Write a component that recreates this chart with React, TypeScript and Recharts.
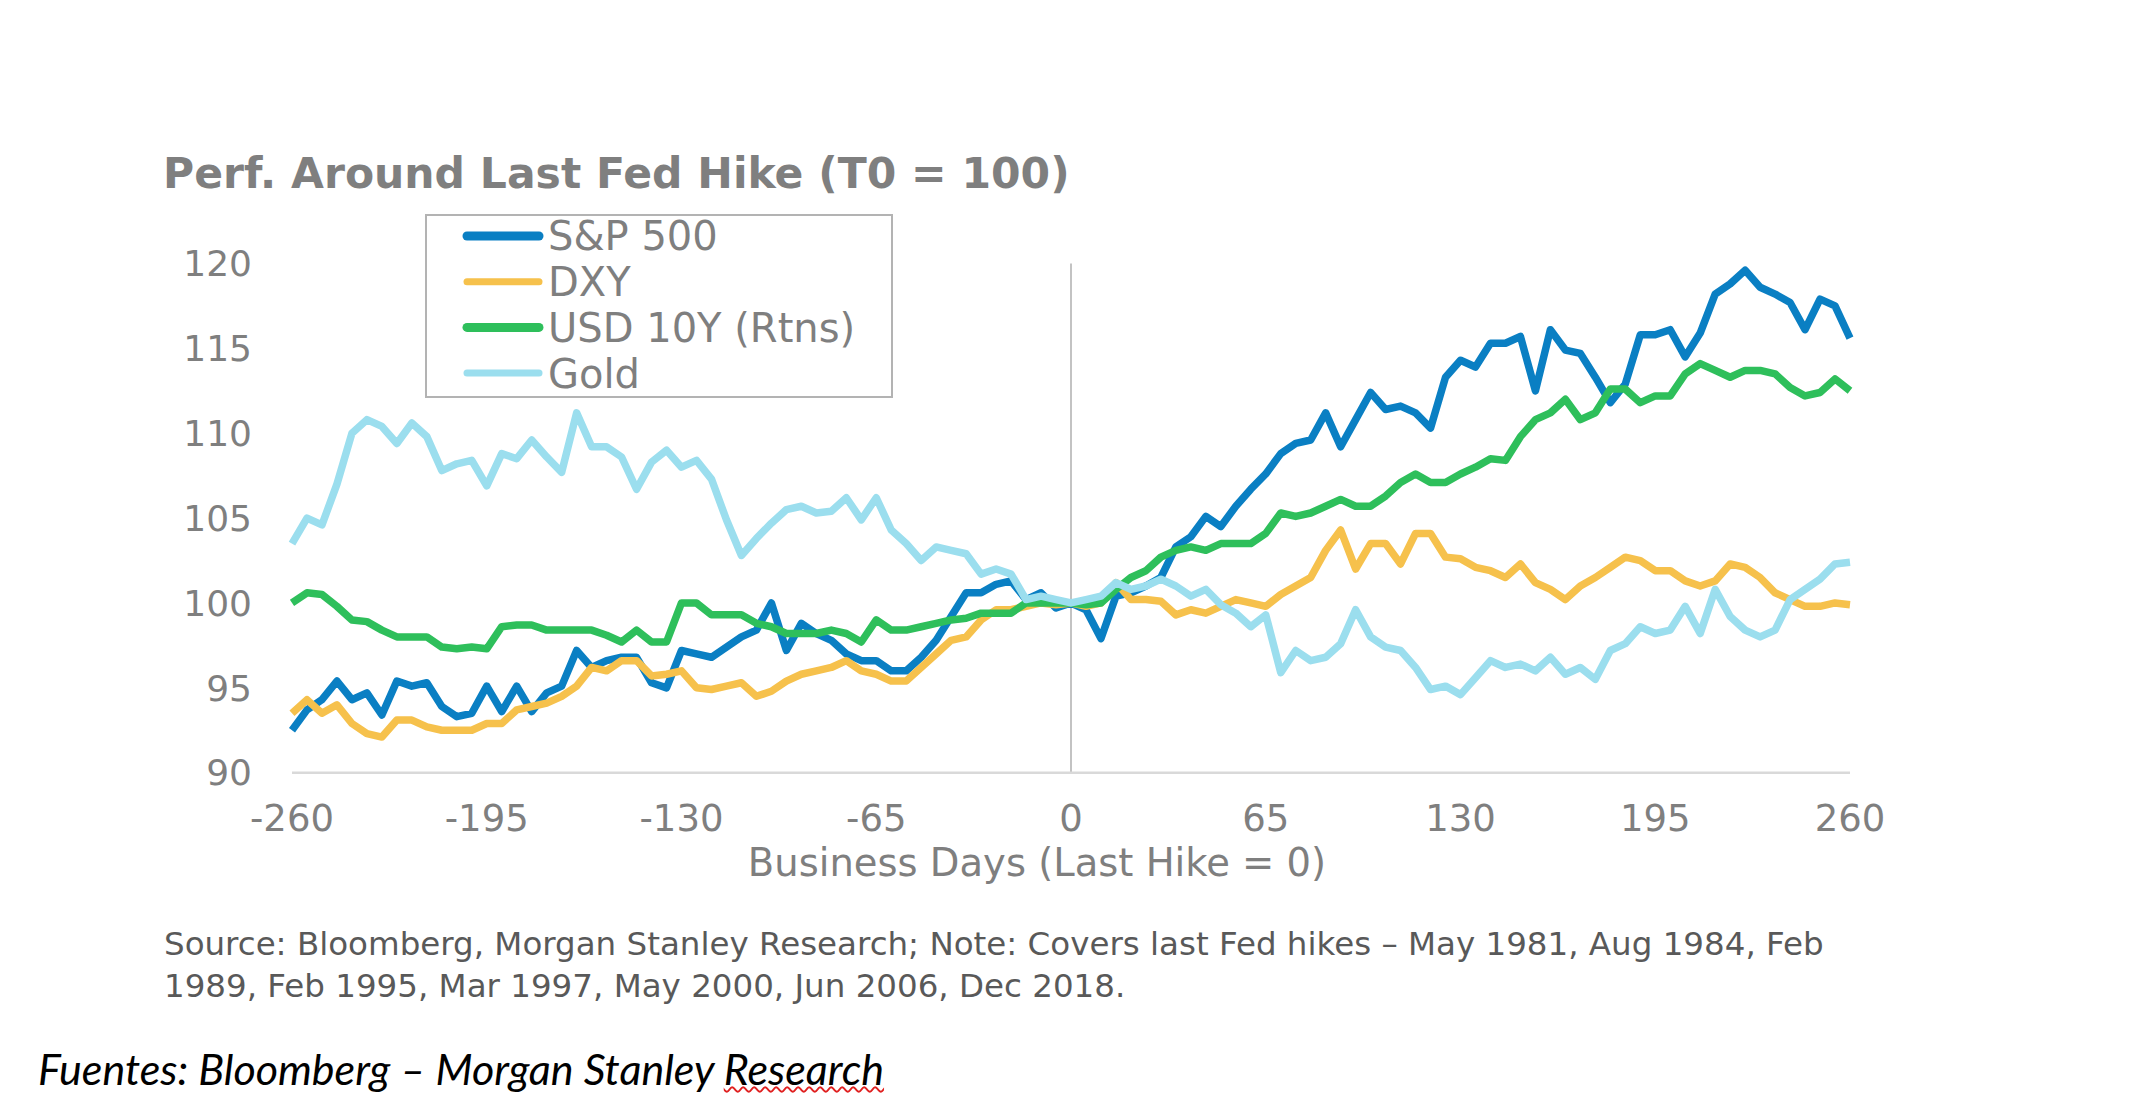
import { LineChart, Line, XAxis, YAxis, ReferenceLine, Legend } from "recharts";

// business days around the last hike, 5-day steps
const days = [
  -260, -255, -250, -245, -240, -235, -230, -225, -220, -215, -210, -205, -200, -195, -190, -185, -180, -175,
  -170, -165, -160, -155, -150, -145, -140, -135, -130, -125, -120, -115, -110, -105, -100, -95, -90, -85,
  -80, -75, -70, -65, -60, -55, -50, -45, -40, -35, -30, -25, -20, -15, -10, -5, 0, 5, 10, 15, 20, 25, 30,
  35, 40, 45, 50, 55, 60, 65, 70, 75, 80, 85, 90, 95, 100, 105, 110, 115, 120, 125, 130, 135, 140, 145, 150,
  155, 160, 165, 170, 175, 180, 185, 190, 195, 200, 205, 210, 215, 220, 225, 230, 235, 240, 245, 250, 255, 260,
];

const sp500 = [
  92.5, 93.7, 94.3, 95.4, 94.3, 94.7, 93.4, 95.4, 95.1, 95.3, 93.9, 93.3, 93.5, 95.1, 93.6, 95.1, 93.6, 94.7,
  95.1, 97.2, 96.2, 96.6, 96.8, 96.8, 95.3, 95.0, 97.2, 97.0, 96.8, 97.4, 98.0, 98.4, 100.0, 97.2, 98.8, 98.2,
  97.8, 97.0, 96.6, 96.6, 96.0, 96.0, 96.8, 97.8, 99.2, 100.6, 100.6, 101.1, 101.3, 100.2, 100.6, 99.7, 100.0,
  99.6, 97.9, 100.4, 100.6, 101.0, 101.5, 103.3, 103.9, 105.1, 104.5, 105.7, 106.7, 107.6, 108.8, 109.4, 109.6,
  111.2, 109.2, 110.8, 112.4, 111.4, 111.6, 111.2, 110.3, 113.3, 114.3, 113.9, 115.3, 115.3, 115.7, 112.5,
  116.1, 114.9, 114.7, 113.3, 111.8, 112.9, 115.8, 115.8, 116.1, 114.5, 115.9, 118.2, 118.8, 119.6, 118.6,
  118.2, 117.7, 116.1, 117.9, 117.5, 115.6,
];

const dxy = [
  93.5, 94.3, 93.5, 94.0, 92.9, 92.3, 92.1, 93.1, 93.1, 92.7, 92.5, 92.5, 92.5, 92.9, 92.9, 93.7, 93.9, 94.1,
  94.5, 95.1, 96.2, 96.0, 96.6, 96.6, 95.7, 95.8, 96.0, 95.0, 94.9, 95.1, 95.3, 94.5, 94.8, 95.4, 95.8, 96.0,
  96.2, 96.6, 96.0, 95.8, 95.4, 95.4, 96.2, 97.0, 97.8, 98.0, 99.0, 99.6, 99.6, 99.8, 100.0, 99.9, 100.0,
  99.8, 100.0, 101.2, 100.2, 100.2, 100.1, 99.3, 99.6, 99.4, 99.8, 100.2, 100.0, 99.8, 100.5, 101.0, 101.5,
  103.1, 104.3, 102.0, 103.5, 103.5, 102.3, 104.1, 104.1, 102.7, 102.6, 102.1, 101.9, 101.5, 102.3, 101.2,
  100.8, 100.2, 101.0, 101.5, 102.1, 102.7, 102.5, 101.9, 101.9, 101.3, 101.0, 101.3, 102.3, 102.1, 101.5,
  100.6, 100.2, 99.8, 99.8, 100.0, 99.9,
];

const usd10y = [
  100.0, 100.6, 100.5, 99.8, 99.0, 98.9, 98.4, 98.0, 98.0, 98.0, 97.4, 97.3, 97.4, 97.3, 98.6, 98.7, 98.7, 98.4,
  98.4, 98.4, 98.4, 98.1, 97.7, 98.4, 97.7, 97.7, 100.0, 100.0, 99.3, 99.3, 99.3, 98.8, 98.6, 98.2, 98.2, 98.2,
  98.4, 98.2, 97.7, 99.0, 98.4, 98.4, 98.6, 98.8, 99.0, 99.1, 99.4, 99.4, 99.4, 100.0, 100.0, 100.0, 100.0,
  99.9, 100.0, 100.8, 101.5, 101.9, 102.7, 103.1, 103.3, 103.1, 103.5, 103.5, 103.5, 104.1, 105.3, 105.1, 105.3,
  105.7, 106.1, 105.7, 105.7, 106.3, 107.1, 107.6, 107.1, 107.1, 107.6, 108.0, 108.5, 108.4, 109.8, 110.8,
  111.2, 112.0, 110.8, 111.2, 112.6, 112.6, 111.8, 112.2, 112.2, 113.5, 114.1, 113.7, 113.3, 113.7, 113.7,
  113.5, 112.7, 112.2, 112.4, 113.2, 112.5,
];

const gold = [
  103.5, 105.0, 104.6, 107.0, 110.0, 110.8, 110.4, 109.4, 110.6, 109.8, 107.8, 108.2, 108.4, 106.9, 108.8, 108.5,
  109.6, 108.6, 107.7, 111.2, 109.2, 109.2, 108.6, 106.7, 108.3, 109.0, 108.0, 108.4, 107.3, 104.9, 102.8, 103.8,
  104.7, 105.5, 105.7, 105.3, 105.4, 106.2, 104.9, 106.2, 104.3, 103.5, 102.5, 103.3, 103.1, 102.9, 101.7, 102.0,
  101.7, 100.2, 100.4, 100.2, 100.0, 100.2, 100.4, 101.2, 100.8, 101.0, 101.4, 101.0, 100.4, 100.8, 99.9, 99.4,
  98.6, 99.3, 95.9, 97.2, 96.6, 96.8, 97.6, 99.6, 98.0, 97.4, 97.2, 96.2, 94.9, 95.1, 94.6, 95.6, 96.6, 96.2,
  96.4, 96.0, 96.8, 95.8, 96.2, 95.5, 97.2, 97.6, 98.6, 98.2, 98.4, 99.8, 98.2, 100.8, 99.2, 98.4, 98.0, 98.4,
  100.2, 100.8, 101.4, 102.3, 102.4,
];

const xTicks = [-260, -195, -130, -65, 0, 65, 130, 195, 260];
const yTicks = [90, 95, 100, 105, 110, 115, 120];

const series = [
  { key: "sp500", name: "S&P 500", color: "#0a7fc3", legendStroke: 9 },
  { key: "dxy", name: "DXY", color: "#f6c14c", legendStroke: 7 },
  { key: "usd10y", name: "USD 10Y (Rtns)", color: "#2ebf5b", legendStroke: 9 },
  { key: "gold", name: "Gold", color: "#9bdeee", legendStroke: 7 },
];

const data = days.map((day, i) => ({
  day,
  sp500: sp500[i],
  dxy: dxy[i],
  usd10y: usd10y[i],
  gold: gold[i],
}));

const FONT = "DejaVu Sans";
const GREY = "#7f7f7f";

const LegendBox = () => (
  <svg width={468} height={184} style={{ display: "block" }}>
    <rect x={1} y={1} width={466} height={182} fill="#fff" stroke="#b3b3b3" strokeWidth={2} />
    {series.map((s, i) => {
      const cy = 22 + i * 45.7;
      return (
        <g key={s.key}>
          <line x1={42} x2={114} y1={cy} y2={cy} stroke={s.color} strokeWidth={s.legendStroke} strokeLinecap="round" />
          <text x={123} y={cy} dy="0.36em" fontSize={40} fill={GREY} fontFamily={FONT}>
            {s.name}
          </text>
        </g>
      );
    })}
  </svg>
);

export default function App() {
  return (
    <div style={{ position: "absolute", left: 0, top: 0, width: 2130, height: 1096, background: "#fff" }}>
      <svg width={2130} height={1096} style={{ position: "absolute", left: 0, top: 0 }}>
        <text x={163} y={188} fontFamily={FONT} fontWeight="bold" fontSize={42.5} fill={GREY}>
          Perf. Around Last Fed Hike (T0 = 100)
        </text>
        <text x={1037} y={876} textAnchor="middle" fontFamily={FONT} fontSize={38.5} fill={GREY}>
          Business Days (Last Hike = 0)
        </text>
        <text x={164} y={955} fontFamily={FONT} fontSize={32.5} fill="#595959">
          Source: Bloomberg, Morgan Stanley Research; Note: Covers last Fed hikes – May 1981, Aug 1984, Feb
        </text>
        <text x={164} y={997} fontFamily={FONT} fontSize={32.5} fill="#595959">
          1989, Feb 1995, Mar 1997, May 2000, Jun 2006, Dec 2018.
        </text>
      </svg>

      <div
        style={{
          position: "absolute",
          left: 38,
          top: 1045,
          fontFamily: "Lato",
          fontStyle: "italic",
          fontSize: 43,
          lineHeight: "47px",
          color: "#000",
          whiteSpace: "nowrap",
        }}
      >
        Fuentes: Bloomberg – Morgan Stanley{" "}
        <span style={{ textDecoration: "underline wavy #e02020", textDecorationThickness: 2 }}>Research</span>
      </div>

      <div style={{ position: "absolute", left: 0, top: 0 }}>
        <LineChart
          width={2130}
          height={1096}
          data={data}
          margin={{ top: 263.5, right: 280, bottom: 263.3, left: 192 }}
        >
          <XAxis
            dataKey="day"
            type="number"
            domain={[-260, 260]}
            ticks={xTicks}
            height={60}
            tickLine={false}
            tickSize={0}
            tickMargin={32}
            axisLine={{ stroke: "#d9d9d9", strokeWidth: 2.5 }}
            tick={{ fill: GREY, fontSize: 37, fontFamily: FONT }}
          />
          <YAxis
            type="number"
            domain={[90, 120]}
            ticks={yTicks}
            width={100}
            axisLine={false}
            tickLine={false}
            tickSize={0}
            tickMargin={40}
            tick={{ fill: GREY, fontSize: 36, fontFamily: FONT }}
          />
          <ReferenceLine x={0} stroke="#c3c3c3" strokeWidth={2} />
          <Legend
            layout="vertical"
            align="center"
            verticalAlign="middle"
            content={() => <LegendBox />}
            wrapperStyle={{ left: 425, top: 214, width: 468, height: 184 }}
          />
          {series.map((s) => (
            <Line
              key={s.key}
              type="linear"
              dataKey={s.key}
              name={s.name}
              stroke={s.color}
              strokeWidth={7.5}
              strokeLinejoin="round"
              dot={false}
              activeDot={false}
              isAnimationActive={false}
            />
          ))}
        </LineChart>
      </div>
    </div>
  );
}
